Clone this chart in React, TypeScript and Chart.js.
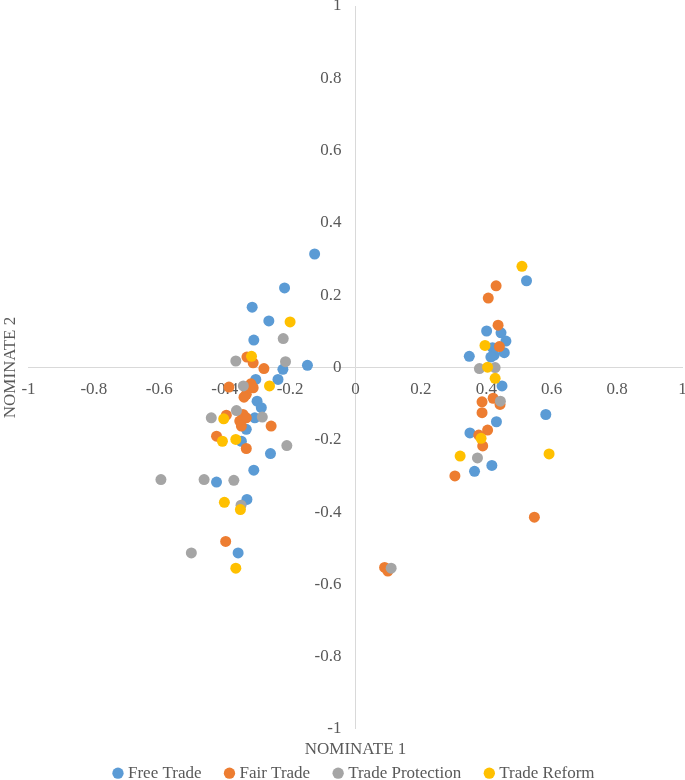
import React, { useEffect, useRef } from "react";
import { Chart, registerables } from "chart.js";

Chart.register(...registerables);

const seriesNames = ["Free Trade", "Fair Trade", "Trade Protection", "Trade Reform"];
const seriesColors = ["#5B9BD5", "#ED7D31", "#A5A5A5", "#FFC000"];

const freeTradeX = [-0.125, -0.217, -0.316, -0.265, -0.311, -0.147, -0.222, -0.237, -0.305, -0.301, -0.288, -0.308, -0.334, -0.349, -0.26, -0.311, -0.425, -0.332, -0.359,
  0.523, 0.401, 0.445, 0.46, 0.419, 0.455, 0.424, 0.348, 0.414, 0.448, 0.582, 0.431, 0.35, 0.417, 0.364];
const freeTradeY = [0.314, 0.22, 0.167, 0.129, 0.076, 0.006, -0.005, -0.033, -0.033, -0.093, -0.111, -0.139, -0.171, -0.204, -0.238, -0.284, -0.317, -0.365, -0.513,
  0.24, 0.101, 0.096, 0.073, 0.055, 0.041, 0.034, 0.031, 0.029, -0.051, -0.13, -0.15, -0.181, -0.271, -0.287];

const fairTradeX = [-0.332, -0.313, -0.28, -0.387, -0.313, -0.32, -0.334, -0.341, -0.395, -0.344, -0.354, -0.334, -0.349, -0.258, -0.425, -0.334, -0.397,
  0.43, 0.406, 0.436, 0.44, 0.387, 0.421, 0.442, 0.387, 0.404, 0.377, 0.389, 0.304, 0.547, 0.089, 0.099];
const fairTradeY = [0.029, 0.013, -0.003, -0.054, -0.056, -0.045, -0.074, -0.082, -0.132, -0.13, -0.148, -0.139, -0.162, -0.162, -0.19, -0.224, -0.481,
  0.226, 0.192, 0.117, 0.058, -0.095, -0.085, -0.102, -0.125, -0.173, -0.187, -0.217, -0.3, -0.414, -0.553, -0.563];

const protectionX = [-0.221, -0.366, -0.214, -0.343, -0.364, -0.441, -0.285, -0.21, -0.595, -0.463, -0.372, -0.35, -0.502,
  0.379, 0.427, 0.443, 0.373, 0.109];
const protectionY = [0.08, 0.018, 0.016, -0.051, -0.119, -0.139, -0.137, -0.216, -0.31, -0.31, -0.312, -0.381, -0.513,
  -0.003, 0.0, -0.093, -0.25, -0.555];

const reformX = [-0.2, -0.318, -0.263, -0.403, -0.407, -0.366, -0.401, -0.352, -0.366,
  0.509, 0.396, 0.404, 0.427, 0.384, 0.32, 0.592];
const reformY = [0.126, 0.031, -0.051, -0.142, -0.204, -0.199, -0.373, -0.393, -0.555,
  0.28, 0.061, 0.001, -0.03, -0.196, -0.245, -0.239];

const xTicks = [-1, -0.8, -0.6, -0.4, -0.2, 0, 0.2, 0.4, 0.6, 0.8, 1];
const yTicks = [-1, -0.8, -0.6, -0.4, -0.2, 0, 0.2, 0.4, 0.6, 0.8, 1];

const xTitle = "NOMINATE 1";
const yTitle = "NOMINATE 2";

const FONT = "'Liberation Serif', 'Times New Roman', serif";
const TEXT = "#595959";
const AXIS = "#D9D9D9";
// y tick labels sit just left of the vertical zero line (in x-data units)
const Y_LABEL_ANCHOR = -0.043;

const toPoints = (xs: number[], ys: number[]) => xs.map((x, i) => ({ x, y: ys[i] }));

const zeroPad = (s: any) => {
  s.paddingLeft = 0;
  s.paddingRight = 0;
  s.paddingTop = 0;
  s.paddingBottom = 0;
};

const fmt = (v: number) => String(Math.round(v * 10) / 10);

export default function App() {
  const ref = useRef<HTMLCanvasElement | null>(null);

  useEffect(() => {
    if (!ref.current) return;
    const allX = [freeTradeX, fairTradeX, protectionX, reformX];
    const allY = [freeTradeY, fairTradeY, protectionY, reformY];
    const datasets = seriesNames.map((name, i) => ({
      label: name,
      data: toPoints(allX[i], allY[i]),
      backgroundColor: seriesColors[i],
      borderColor: seriesColors[i],
      borderWidth: 0,
      pointRadius: 5.5,
      pointHoverRadius: 5.5,
      pointStyle: "circle",
      order: seriesNames.length - i,
    }));

    const chart = new Chart(ref.current, {
      type: "scatter",
      data: { datasets },
      options: {
        animation: false,
        responsive: true,
        maintainAspectRatio: false,
        layout: { padding: { top: 6, left: 0, right: 0, bottom: -11.7 } },
        scales: {
          x: {
            type: "linear",
            position: { y: 0 } as any,
            min: -1,
            max: 1,
            afterBuildTicks: (s: any) => {
              s.ticks = xTicks.map((v) => ({ value: v }));
            },
            afterFit: zeroPad,
            grid: {
              display: true,
              drawOnChartArea: true,
              drawTicks: false,
              lineWidth: 1,
              color: (c: any) => (c.tick && c.tick.value === 0 ? AXIS : "rgba(0,0,0,0)"),
            },
            border: { display: true, color: AXIS, width: 1 },
            ticks: {
              autoSkip: false,
              maxRotation: 0,
              padding: 12,
              color: TEXT,
              font: { family: FONT, size: 17 },
              callback: (v: any) => fmt(Number(v)),
            },
          },
          y: {
            type: "linear",
            position: { x: Y_LABEL_ANCHOR } as any,
            min: -1,
            max: 1,
            afterBuildTicks: (s: any) => {
              s.ticks = yTicks.map((v) => ({ value: v }));
            },
            afterFit: zeroPad,
            grid: { display: false, drawOnChartArea: false, drawTicks: false },
            border: { display: false },
            ticks: {
              autoSkip: false,
              color: TEXT,
              font: { family: FONT, size: 17 },
              callback: (v: any) => fmt(Number(v)),
            },
          },
        },
        plugins: {
          tooltip: { enabled: false },
          title: {
            display: true,
            text: yTitle,
            position: "left",
            fullSize: false,
            color: TEXT,
            font: { family: FONT, size: 17, weight: "normal", lineHeight: 1.2 },
            padding: { top: 0, bottom: 8.1 },
          },
          legend: {
            display: true,
            position: "bottom",
            fullSize: false,
            title: {
              display: true,
              text: xTitle,
              color: TEXT,
              font: { family: FONT, size: 17, lineHeight: 0.01 },
              padding: { top: 12.5, bottom: -3.5 },
            },
            labels: {
              usePointStyle: true,
              boxWidth: 3,
              boxHeight: 8,
              padding: 26.5,
              color: TEXT,
              font: { family: FONT, size: 17 },
              sort: (a: any, b: any) => a.datasetIndex - b.datasetIndex,
            },
          },
        },
      } as any,
    });
    return () => chart.destroy();
  }, []);

  return (
    <div style={{ position: "absolute", left: 0, top: 0, width: 685, height: 780, overflow: "hidden" }}>
      <div style={{ position: "relative", width: 688, height: 780 }}>
        <canvas ref={ref} />
      </div>
    </div>
  );
}
